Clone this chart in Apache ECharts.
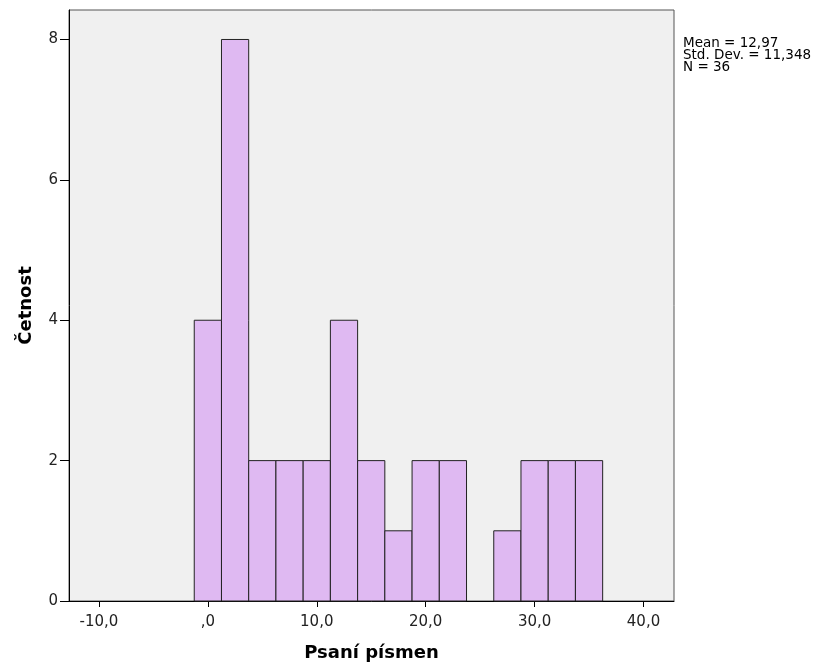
<!DOCTYPE html>
<html>
<head>
<meta charset="utf-8">
<script src="https://cdn.jsdelivr.net/npm/echarts@6/dist/echarts.min.js"></script>
<style>
  html, body { margin: 0; padding: 0; background: #ffffff; }
  #main { width: 818px; height: 671px; }
</style>
</head>
<body>
<div id="main"></div>
<script>
// histogram bins (centre of each bin, width 2.5)
var binCenters = [0, 2.5, 5, 7.5, 10, 12.5, 15, 17.5, 20, 22.5, 25, 27.5, 30, 32.5, 35];
var counts = [4, 8, 2, 2, 2, 4, 2, 1, 2, 2, 0, 1, 2, 2, 2];
var binWidth = 2.5;
var xTicks = [-10, 0, 10, 20, 30, 40];
var yTicks = [0, 2, 4, 6, 8];
var statsLines = ['Mean = 12,97', 'Std. Dev. = 11,348', 'N = 36'];

var font = '"DejaVu Sans", Verdana, sans-serif';

function fmtX(v) {
    var s = v.toFixed(1).replace('.', ',');
    if (s === '0,0') s = ',0';
    return s;
}

var chart = echarts.init(document.getElementById('main'));
var option = {
    backgroundColor: '#ffffff',
    animation: false,
    grid: {
        left: 69,
        right: 144,
        top: 10,
        bottom: 70,
        show: true,
        backgroundColor: '#f0f0f0',
        borderColor: '#555555',
        borderWidth: 1
    },
    xAxis: {
        type: 'value',
        min: -12.75,
        max: 42.8,
        name: 'Psaní písmen',
        nameLocation: 'middle',
        nameGap: 43,
        nameTextStyle: { fontFamily: font, fontSize: 18, fontWeight: 'bold', color: '#000' },
        axisLine: { show: true, onZero: false, lineStyle: { color: '#000', width: 1 } },
        axisTick: { show: true, length: 6, customValues: xTicks, lineStyle: { color: '#000' } },
        axisLabel: {
            customValues: xTicks,
            formatter: fmtX,
            fontFamily: font, fontSize: 15, color: '#222', margin: 14
        },
        splitLine: { show: false }
    },
    yAxis: {
        type: 'value',
        min: 0,
        max: 8.42,
        name: 'Četnost',
        nameLocation: 'middle',
        nameGap: 34,
        nameTextStyle: { fontFamily: font, fontSize: 18, fontWeight: 'bold', color: '#000' },
        axisLine: { show: true, onZero: false, lineStyle: { color: '#000', width: 1 } },
        axisTick: { show: true, length: 9, customValues: yTicks, lineStyle: { color: '#000' } },
        axisLabel: {
            customValues: yTicks,
            fontFamily: font, fontSize: 15, color: '#222', margin: 11
        },
        splitLine: { show: false }
    },
    graphic: [{
        type: 'text',
        left: 683,
        top: 36,
        style: {
            text: statsLines.join('\n'),
            font: '13.5px ' + font,
            fill: '#000',
            lineHeight: 12
        }
    }],
    series: [{
        type: 'custom',
        data: binCenters.map(function (c, i) { return [c, counts[i]]; }),
        encode: { x: 0, y: 1 },
        renderItem: function (params, api) {
            var x = api.value(0), c = api.value(1);
            if (!c) return null;
            var p1 = api.coord([x - binWidth / 2, c]);
            var p2 = api.coord([x + binWidth / 2, 0]);
            return {
                type: 'rect',
                shape: { x: p1[0], y: p1[1], width: p2[0] - p1[0], height: p2[1] - p1[1] },
                style: { fill: '#dfb9f2', stroke: '#222222', lineWidth: 1 }
            };
        }
    }]
};
chart.setOption(option);
</script>
</body>
</html>
